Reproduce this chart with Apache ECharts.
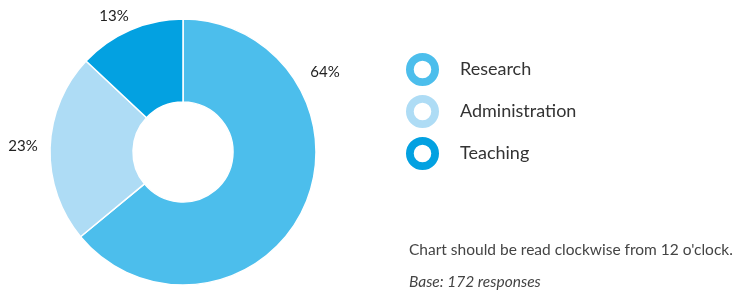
<!DOCTYPE html>
<html lang="en" style="height: 100%">
<head>
    <meta charset="utf-8">
    <title>Role breakdown</title>
    <script src="https://cdn.jsdelivr.net/npm/echarts@6.0.0/dist/echarts.min.js"></script>
    <style>
        html, body { margin: 0; padding: 0; background: #fff; }
    </style>
</head>
<body>
<div id="main" style="width:738px;height:291px"></div>
<script type="text/javascript">
    // data
    var categories = ['Research', 'Administration', 'Teaching'];
    var shares = [64, 23, 13];
    var colors = ['#4cbeec', '#aedcf5', '#03a1e1'];
    var note = 'Chart should be read clockwise from 12 o\'clock.';
    var base = 'Base: 172 responses';

    // where the percentage labels sit (not on the slice mid-angle in the original)
    var labelSpots = [[325, 72], [23, 146], [114, 16]];

    var ring = 'path://M0,-18A18,18 0 1,1 0,18A18,18 0 1,1 0,-18Z M0,-8A8,8 0 1,0 0,8A8,8 0 1,0 0,-8Z';

    var myChart = echarts.init(document.getElementById('main'), null, { renderer: 'canvas' });

    var option = {
        animation: false,
        textStyle: { fontFamily: 'Lato' },
        title: {
            text: note,
            subtext: base,
            left: 409,
            top: 242,
            padding: 0,
            itemGap: 16,
            textStyle: { fontSize: 15.5, fontWeight: 'normal', color: '#444', fontFamily: 'Lato' },
            subtextStyle: { fontSize: 15.5, fontStyle: 'italic', color: '#444', fontFamily: 'Lato' }
        },
        legend: {
            orient: 'vertical',
            left: 404,
            top: 51,
            padding: 0,
            itemWidth: 35,
            itemHeight: 35,
            itemGap: 5,
            icon: ring,
            data: categories,
            textStyle: { fontSize: 18, color: '#333', fontFamily: 'Lato', padding: [0, 0, 0, 15] }
        },
        series: [{
            type: 'pie',
            center: [183, 152],
            radius: [50, 133],
            startAngle: 90,
            clockwise: true,
            silent: true,
            itemStyle: { borderColor: '#fff', borderWidth: 1.5 },
            label: {
                show: true,
                position: 'inside',
                formatter: '{c}%',
                fontSize: 15,
                color: '#222',
                fontFamily: 'Lato'
            },
            labelLine: { show: false },
            labelLayout: function (p) {
                var s = labelSpots[p.dataIndex];
                return { x: s[0], y: s[1], align: 'center', verticalAlign: 'middle' };
            },
            data: categories.map(function (c, i) {
                return { name: c, value: shares[i], itemStyle: { color: colors[i] } };
            })
        }]
    };

    myChart.setOption(option);
</script>
</body>
</html>
